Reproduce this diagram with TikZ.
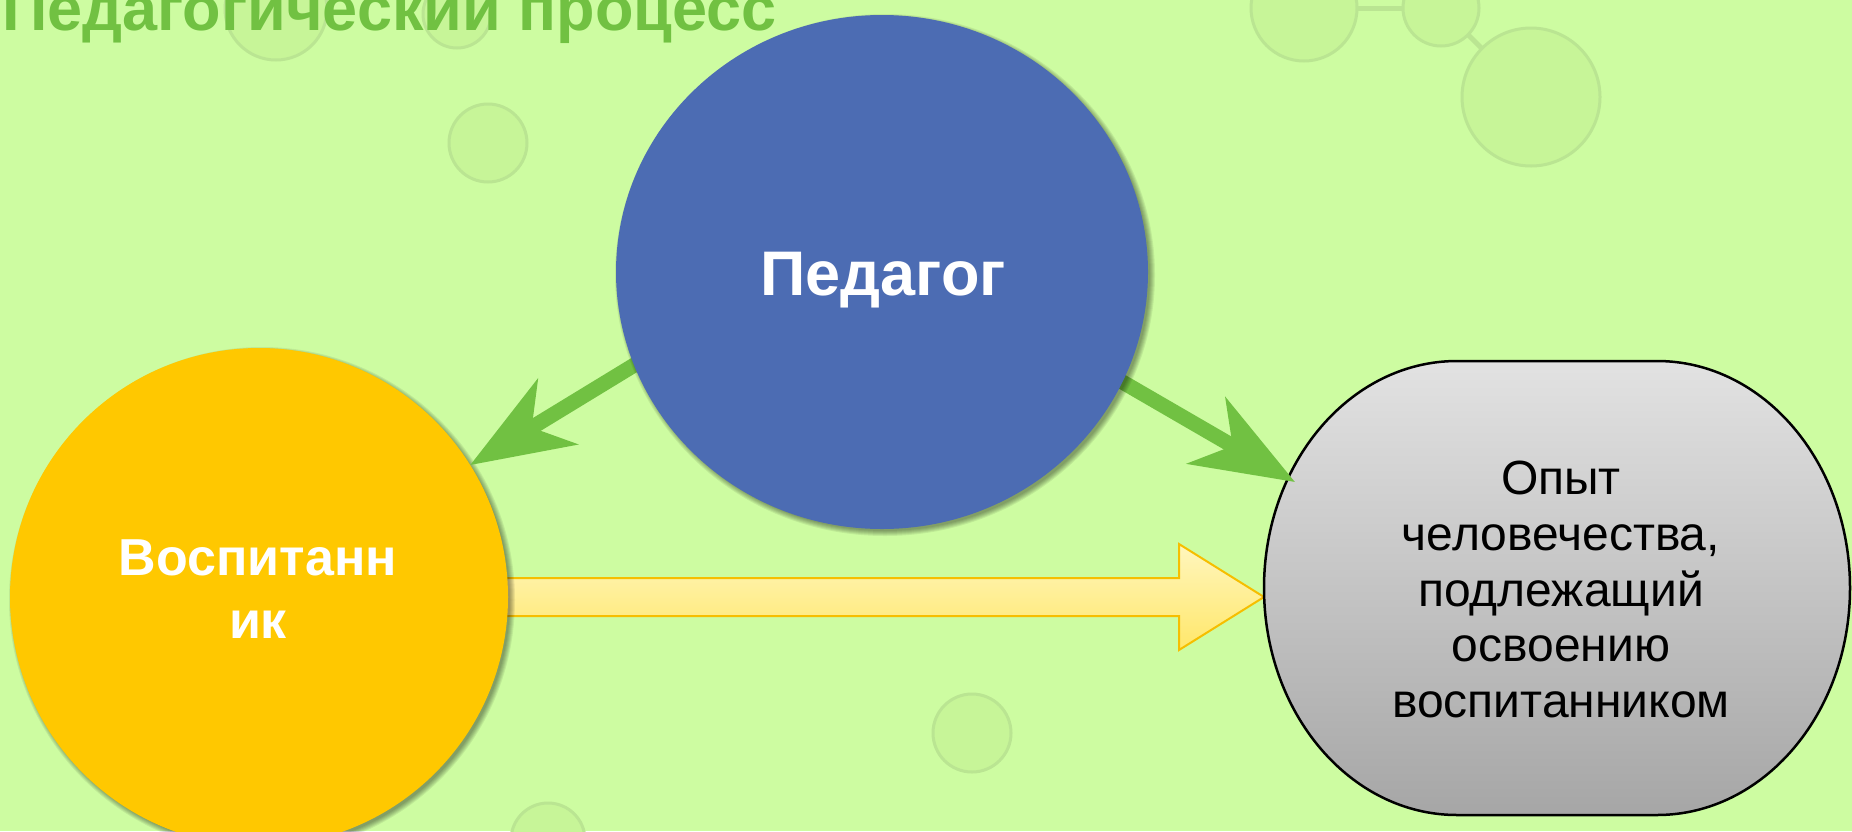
\documentclass[tikz,border=0pt]{standalone}
\usepackage{fontspec}
\setmainfont{Liberation Sans}
\usetikzlibrary{shapes.geometric, arrows.meta, calc}
\definecolor{bgc}{RGB}{205,252,161}
\definecolor{decofill}{RGB}{199,245,152}
\definecolor{decoline}{RGB}{186,229,146}
\definecolor{tgreen}{RGB}{113,193,66}
\definecolor{pedblue}{RGB}{76,108,179}
\definecolor{vyellow}{RGB}{255,200,0}
\definecolor{gtop}{RGB}{226,226,226}
\definecolor{gbot}{RGB}{166,166,166}
\definecolor{ytop}{RGB}{255,246,190}
\definecolor{ybot}{RGB}{255,231,106}
\definecolor{yborder}{RGB}{246,190,0}
\pgfdeclarelayer{bg}
\pgfdeclarelayer{top}
\pgfsetlayers{bg,main,top}
\begin{document}
\begin{tikzpicture}[x=0.5pt,y=-0.5pt,
  deco/.style={circle, draw=decoline, line width=1.5pt, fill=decofill, inner sep=0, outer sep=0},
  decolink/.style={draw=decoline, line width=2.5pt},
  garrow/.style={draw=tgreen, line width=7.5pt, -{Stealth[length=51pt, width=38pt, inset=15pt]}},
  yarrow/.style={draw=yborder, line width=1pt, line join=miter, top color=ytop, bottom color=ybot},
  gshape/.style={draw=black, line width=1.25pt, top color=gtop, bottom color=gbot},
  whitebold/.style={text=white, inner sep=0, font=\bfseries},
]
\useasboundingbox (0,0) rectangle (1852,831);
\begin{pgfonlayer}{bg}
  \fill[bgc] (0,0) rectangle (1852,831);
  \node[deco, minimum size=51pt] (dc1) at (276,9) {};
  \node[deco, minimum size=34pt] (dc2) at (457,14) {};
  \node[deco, minimum size=39pt] (dc3) at (488,143) {};
  \node[deco, minimum size=53pt] (dc4) at (1304,8) {};
  \node[deco, minimum size=38pt] (dc5) at (1441,8) {};
  \node[deco, minimum size=69pt] (dc6) at (1531,97) {};
  \node[deco, minimum size=39pt] (dc7) at (972,733) {};
  \node[deco, minimum size=37pt] (dc8) at (548,840) {};
  \draw[decolink] (dc4) -- (dc5);
  \draw[decolink] (dc5) -- (dc6);
\end{pgfonlayer}

\coordinate (vosc) at (259,597);
\coordinate (pedc) at (882,272);

% Vospitannik circle with soft shadow
\foreach \i in {0,...,5}
  \fill[black, opacity=0.07] ($(vosc)+(3,3)$) circle [radius=248+\i];
\node[circle, fill=vyellow, minimum size=249pt, inner sep=0, outer sep=0] (vos) at (vosc) {};

% Experience shape: flat top and bottom, elliptic ends
\node[rectangle, minimum width=293pt, minimum height=227pt, inner sep=0, outer sep=0] (exp) at (1557,588) {};
\path[gshape] ($(exp.north)+(-100,0)$) -- ($(exp.north)+(100,0)$)
   arc[start angle=-90, end angle=90, x radius=193, y radius=227]
   -- ($(exp.south)+(-100,0)$)
   arc[start angle=90, end angle=270, x radius=193, y radius=227] -- cycle;

% yellow block arrow (behind the circle)
\coordinate (ytip) at (exp.west |- vos.center);
\begin{pgfonlayer}{bg}
  \path[yarrow] ($(vos.center)+(0,-19)$) -- ($(ytip)+(-85,-19)$) -- ($(ytip)+(-85,-53)$) -- (ytip)
     -- ($(ytip)+(-85,53)$) -- ($(ytip)+(-85,19)$) -- ($(vos.center)+(0,19)$) -- cycle;
\end{pgfonlayer}

% green arrows
\coordinate (a1s) at ($(pedc)+(-228,81)$);
\coordinate (a2s) at ($(pedc)+(218,97)$);
\coordinate (a2e) at ($(exp.center)+(-262,-106)$);
\draw[garrow] (a1s) -- (vos.32);
\draw[garrow] (a2s) -- (a2e);

% texts
\node[whitebold, align=center, font=\bfseries\fontsize{26pt}{31.5pt}\selectfont] (vostxt) at (258,589.5) {Воспитанн\\ик};
\node[align=center, inner sep=0, font=\fontsize{24pt}{27.9pt}\selectfont] (exptxt) at (1561,589.5)
  {Опыт\\человечества,\\подлежащий\\освоению\\воспитанником};
\node[anchor=base east, inner sep=0, text=tgreen, font=\bfseries\fontsize{31.5pt}{36pt}\selectfont] (title) at (777,30) {Педагогический процесс};

\begin{pgfonlayer}{top}
  \foreach \i in {0,...,5}
    \fill[black, opacity=0.07] ($(pedc)+(3,3)$) ellipse [x radius=265+\i, y radius=256+\i];
  \node[ellipse, fill=pedblue, minimum width=266pt, minimum height=257pt, inner sep=0, outer sep=0] (ped) at (pedc) {};
  \node[whitebold, anchor=base, font=\bfseries\fontsize{31.5pt}{36pt}\selectfont] (pedtxt) at (883,295) {Педагог};
\end{pgfonlayer}
\end{tikzpicture}
\end{document}
